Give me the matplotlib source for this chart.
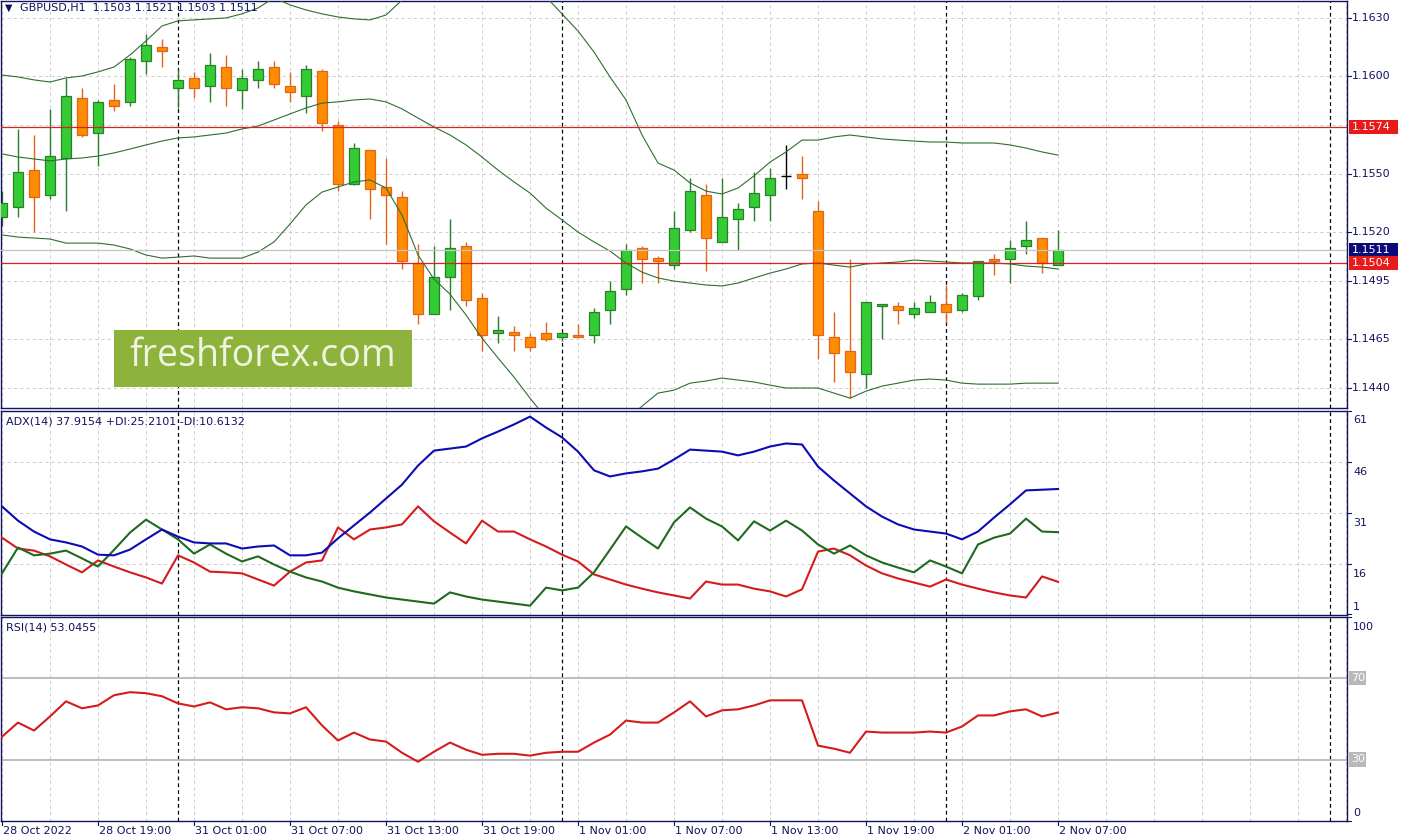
import matplotlib
matplotlib.use("Agg")
import matplotlib.pyplot as plt
import matplotlib.transforms as mtransforms
from matplotlib.patches import Rectangle
from matplotlib.lines import Line2D

# ---------------- data ----------------
symbol_header = "GBPUSD,H1  1.1503 1.1521 1.1503 1.1511"
adx_header = "ADX(14) 37.9154 +DI:25.2101 -DI:10.6132"
rsi_header = "RSI(14) 53.0455"

opens = [1.1528, 1.1533, 1.1552, 1.1539, 1.1558, 1.1589, 1.1571, 1.1588, 1.1587, 1.1608,
         1.1615, 1.1594, 1.1599, 1.1595, 1.1605, 1.1593, 1.1598, 1.1605, 1.1595, 1.1590,
         1.1603, 1.1575, 1.1545, 1.1562, 1.1543, 1.1538, 1.1504, 1.1478, 1.1497, 1.1513,
         1.1486, 1.1468, 1.1469, 1.1466, 1.1468, 1.1466, 1.1467, 1.1467, 1.1480, 1.1491,
         1.1512, 1.1507, 1.1503, 1.1521, 1.1539, 1.1515, 1.1527, 1.1533, 1.1539, 1.1549,
         1.1550, 1.1531, 1.1466, 1.1459, 1.1447, 1.1482, 1.1482, 1.1478, 1.1479, 1.1483,
         1.1480, 1.1487, 1.1506, 1.1506, 1.1513, 1.1517, 1.1503]
highs = [1.1541, 1.1573, 1.1570, 1.1583, 1.1599, 1.1594, 1.1588, 1.1596, 1.1610, 1.1622,
         1.1619, 1.1604, 1.1602, 1.1612, 1.1611, 1.1604, 1.1608, 1.1608, 1.1602, 1.1606,
         1.1604, 1.1577, 1.1566, 1.1562, 1.1558, 1.1541, 1.1514, 1.1513, 1.1527, 1.1515,
         1.1489, 1.1477, 1.1472, 1.1468, 1.1474, 1.1468, 1.1473, 1.1481, 1.1495, 1.1514,
         1.1513, 1.1508, 1.1531, 1.1548, 1.1545, 1.1548, 1.1535, 1.1551, 1.1553, 1.1565,
         1.1559, 1.1536, 1.1479, 1.1506, 1.1484, 1.1483, 1.1484, 1.1484, 1.1488, 1.1493,
         1.1489, 1.1505, 1.1509, 1.1516, 1.1526, 1.1517, 1.1521]
lows = [1.1523, 1.1528, 1.1520, 1.1537, 1.1531, 1.1569, 1.1554, 1.1582, 1.1585, 1.1601,
        1.1605, 1.1584, 1.1589, 1.1587, 1.1585, 1.1583, 1.1594, 1.1594, 1.1587, 1.1581,
        1.1572, 1.1541, 1.1544, 1.1527, 1.1514, 1.1501, 1.1473, 1.1478, 1.1480, 1.1482,
        1.1459, 1.1463, 1.1459, 1.1459, 1.1464, 1.1464, 1.1466, 1.1463, 1.1473, 1.1488,
        1.1494, 1.1494, 1.1501, 1.1520, 1.1500, 1.1515, 1.1511, 1.1526, 1.1526, 1.1542,
        1.1537, 1.1455, 1.1443, 1.1435, 1.1440, 1.1465, 1.1473, 1.1476, 1.1479, 1.1474,
        1.1479, 1.1485, 1.1498, 1.1494, 1.1509, 1.1499, 1.1503]
closes = [1.1535, 1.1551, 1.1538, 1.1559, 1.1590, 1.1570, 1.1587, 1.1585, 1.1609, 1.1616,
          1.1613, 1.1598, 1.1594, 1.1606, 1.1594, 1.1599, 1.1604, 1.1596, 1.1592, 1.1604,
          1.1576, 1.1545, 1.1563, 1.1542, 1.1539, 1.1505, 1.1478, 1.1497, 1.1512, 1.1485,
          1.1467, 1.1470, 1.1467, 1.1461, 1.1465, 1.1468, 1.1466, 1.1479, 1.1490, 1.1511,
          1.1506, 1.1505, 1.1522, 1.1541, 1.1517, 1.1528, 1.1532, 1.1540, 1.1548, 1.1549,
          1.1548, 1.1467, 1.1458, 1.1448, 1.1484, 1.1483, 1.1480, 1.1481, 1.1484, 1.1479,
          1.1488, 1.1505, 1.1505, 1.1512, 1.1516, 1.1504, 1.1511]

bb_upper = [1.16007, 1.15997, 1.15982, 1.15971, 1.15992, 1.16002, 1.16023, 1.16048, 1.16110, 1.16182,
            1.16259, 1.16285, 1.16290, 1.16295, 1.16300, 1.16321, 1.16351, 1.16403, 1.16367, 1.16341,
            1.16321, 1.16305, 1.16295, 1.16290, 1.16315, 1.16392, 1.16495, 1.16598, 1.16675, 1.16726,
            1.16752, 1.16752, 1.16726, 1.16649, 1.16408, 1.16321, 1.16233, 1.16125, 1.15997, 1.15879,
            1.15699, 1.15555, 1.15519, 1.15453, 1.15411, 1.15396, 1.15427, 1.15489, 1.15560, 1.15612,
            1.15673, 1.15673, 1.15689, 1.15699, 1.15689, 1.15679, 1.15673, 1.15668, 1.15663, 1.15663,
            1.15658, 1.15658, 1.15658, 1.15648, 1.15632, 1.15612, 1.15596]
bb_middle = [1.15602, 1.15586, 1.15576, 1.15566, 1.15576, 1.15581, 1.15591, 1.15607, 1.15627, 1.15648,
             1.15668, 1.15684, 1.15689, 1.15699, 1.15709, 1.15730, 1.15745, 1.15776, 1.15807, 1.15838,
             1.15863, 1.15869, 1.15879, 1.15884, 1.15869, 1.15833, 1.15786, 1.15740, 1.15699, 1.15648,
             1.15586, 1.15519, 1.15458, 1.15401, 1.15324, 1.15263, 1.15201, 1.15150, 1.15103, 1.15042,
             1.14995, 1.14965, 1.14949, 1.14939, 1.14929, 1.14924, 1.14939, 1.14965, 1.14990, 1.15011,
             1.15037, 1.15042, 1.15031, 1.15021, 1.15037, 1.15042, 1.15047, 1.15057, 1.15052, 1.15047,
             1.15042, 1.15042, 1.15042, 1.15037, 1.15026, 1.15021, 1.15011]
bb_lower = [1.15186, 1.15175, 1.15170, 1.15165, 1.15144, 1.15144, 1.15144, 1.15134, 1.15114, 1.15083,
            1.15067, 1.15072, 1.15078, 1.15067, 1.15067, 1.15067, 1.15098, 1.15150, 1.15242, 1.15340,
            1.15406, 1.15432, 1.15458, 1.15468, 1.15427, 1.15288, 1.15083, 1.14959, 1.14882, 1.14775,
            1.14656, 1.14554, 1.14456, 1.14348, 1.14246, 1.14158, 1.14107, 1.14107, 1.14158, 1.14235,
            1.14307, 1.14374, 1.14389, 1.14425, 1.14436, 1.14451, 1.14441, 1.14431, 1.14415, 1.14400,
            1.14400, 1.14400, 1.14374, 1.14348, 1.14384, 1.14410, 1.14425, 1.14441, 1.14446, 1.14441,
            1.14425, 1.14420, 1.14420, 1.14420, 1.14425, 1.14425, 1.14425]

adx = [32.8, 28.6, 25.4, 23.1, 22.2, 21.0, 18.6, 18.4, 20.1, 23.1,
       26.0, 23.9, 22.2, 21.9, 21.9, 20.4, 21.0, 21.3, 18.4, 18.4,
       19.2, 23.4, 27.2, 31.0, 35.1, 39.2, 44.8, 49.2, 49.8, 50.4,
       52.8, 54.8, 56.9, 59.2, 56.0, 53.1, 48.9, 43.4, 41.6, 42.5,
       43.1, 43.9, 46.6, 49.5, 49.2, 48.9, 47.8, 48.9, 50.4, 51.3,
       51.0, 44.5, 40.4, 36.6, 32.8, 29.8, 27.5, 26.0, 25.4, 24.8,
       23.1, 25.4, 29.5, 33.4, 37.5, 37.7, 37.9154]
plus_di = [13.1, 20.7, 18.4, 18.9, 19.8, 17.5, 15.1, 20.0, 25.1, 28.9,
           26.0, 23.1, 18.9, 21.6, 18.9, 16.6, 18.1, 15.7, 13.6, 11.9,
           10.7, 8.9, 7.8, 6.9, 6.0, 5.4, 4.8, 4.2, 7.5, 6.3,
           5.4, 4.8, 4.2, 3.6, 8.9, 8.1, 8.9, 13.4, 20.1, 26.9,
           23.6, 20.4, 28.1, 32.5, 29.2, 26.9, 22.8, 28.4, 25.7, 28.6,
           25.7, 21.6, 18.9, 21.3, 18.4, 16.3, 14.8, 13.4, 16.9, 15.1,
           13.1, 21.6, 23.6, 24.8, 29.2, 25.4, 25.2101]
minus_di = [23.6, 20.4, 19.8, 18.1, 15.7, 13.4, 16.9, 15.1, 13.4, 11.9,
            10.1, 18.4, 16.3, 13.6, 13.4, 13.1, 11.3, 9.5, 13.6, 16.3,
            16.9, 26.6, 23.1, 26.0, 26.6, 27.5, 32.8, 28.4, 25.1, 21.9,
            28.6, 25.4, 25.4, 23.1, 21.0, 18.6, 16.6, 12.8, 11.3, 9.8,
            8.6, 7.5, 6.6, 5.7, 10.7, 9.8, 9.8, 8.6, 7.8, 6.3,
            8.4, 19.5, 20.4, 18.4, 15.4, 13.1, 11.6, 10.4, 9.2, 11.3,
            9.8, 8.6, 7.5, 6.6, 6.0, 12.2, 10.6132]
rsi = [41.2, 48.1, 44.2, 51.1, 58.5, 55.1, 56.5, 61.5, 63.0, 62.5,
       61.0, 57.5, 56.0, 58.0, 54.6, 55.6, 55.1, 53.1, 52.6, 55.6,
       46.7, 39.3, 43.2, 39.8, 38.8, 33.3, 28.9, 33.8, 38.3, 34.8,
       32.3, 32.8, 32.8, 31.9, 33.3, 33.8, 33.8, 38.3, 42.2, 49.1,
       48.1, 48.1, 53.1, 58.5, 51.1, 54.1, 54.6, 56.5, 59.0, 59.0,
       59.0, 36.8, 35.3, 33.3, 43.7, 43.2, 43.2, 43.2, 43.7, 43.2,
       46.2, 51.6, 51.6, 53.6, 54.6, 51.1, 53.0455]

tick_labels = ["28 Oct 2022", "28 Oct 19:00", "31 Oct 01:00", "31 Oct 07:00",
               "31 Oct 13:00", "31 Oct 19:00", "1 Nov 01:00", "1 Nov 07:00",
               "1 Nov 13:00", "1 Nov 19:00", "2 Nov 01:00", "2 Nov 07:00"]
tick_bars = [0, 6, 12, 18, 24, 30, 36, 42, 48, 54, 60, 66]
separator_bars = [11, 35, 59, 83]
price_tick_values = [1.1630, 1.1600, 1.1550, 1.1520, 1.1495, 1.1465, 1.1440]
price_grid_values = [1.1630, 1.1600, 1.1575, 1.1550, 1.1520, 1.1495, 1.1465, 1.1440]
level_prices = [1.1574, 1.1504]
level_labels = ["1.1574", "1.1504"]
bid_price = 1.1511
bid_label = "1.1511"
adx_grid_values = [16, 31, 46]
adx_tick_labels = ["61", "46", "31", "16", "1"]
rsi_levels = [70, 30]
rsi_level_labels = ["70", "30"]
watermark = "freshforex.com"

# ---------------- layout ----------------
W, H, DPI = 1407, 836, 100
NAVY = "#12125e"
GRID = "#cfcfcf"
FONT = "DejaVu Sans"
plt.rcParams["font.family"] = [FONT]

fig = plt.figure(figsize=(W / DPI, H / DPI), dpi=DPI)
fig.patch.set_facecolor("white")


def fx(px):
    return px / W


def fy(py):
    return 1 - py / H


def add_ax(l, t, r, b):
    return fig.add_axes([fx(l), fy(b), (r - l) / W, (b - t) / H])


XR = 1347
ax1 = add_ax(1, 1, XR, 407.5)
ax2 = add_ax(1, 410.5, XR, 614.5)
ax3 = add_ax(1, 616.7, XR, 820.7)

xmin, xmax = -0.0625, 84.06
n = len(closes)
xs = list(range(n))

for ax in (ax1, ax2, ax3):
    ax.set_xlim(xmin, xmax)
    ax.set_xticks([])
    ax.set_yticks([])
    for s in ax.spines.values():
        s.set_color(NAVY)
        s.set_linewidth(1.0)
    ax.set_facecolor("white")
    for gx in range(0, 85, 3):
        ax.axvline(gx, color=GRID, lw=0.75, ls=(0, (3, 3)), zorder=0.5)
    for sx in separator_bars:
        ax.axvline(sx, color="black", lw=0.9, ls=(0, (3, 2.5)), zorder=0.8)

ax1.set_ylim(1.14300, 1.16387)
ax2.set_ylim(1, 61)
ax3.set_ylim(0, 100)

for p in price_grid_values:
    ax1.axhline(p, color=GRID, lw=0.75, ls=(0, (3, 3)), zorder=0.5)
for v in adx_grid_values:
    ax2.axhline(v, color=GRID, lw=0.75, ls=(0, (3, 3)), zorder=0.5)

# ---------------- candles ----------------
BULL_FILL, BULL_EDGE = "#33cc33", "#2b7f2b"
BEAR_FILL, BEAR_EDGE = "#ff8c00", "#e0641a"
bw = 0.6
for i in xs:
    o, h, l, c = opens[i], highs[i], lows[i], closes[i]
    if c > o:
        fc, ec = BULL_FILL, BULL_EDGE
    elif c < o:
        fc, ec = BEAR_FILL, BEAR_EDGE
    else:
        fc, ec = "black", "black"
    ax1.vlines(i, l, h, color=ec, lw=1.0, zorder=2)
    if c == o:
        ax1.hlines(o, i - bw / 2, i + bw / 2, color=ec, lw=1.0, zorder=3)
    else:
        ax1.bar(i, abs(c - o), bottom=min(o, c), width=bw, color=fc,
                edgecolor=ec, linewidth=0.9, zorder=3)

BB = "#2e6e2e"
for band in (bb_upper, bb_middle, bb_lower):
    ax1.plot(xs, band, color=BB, lw=0.8, zorder=4)

ax1.axhline(bid_price, color="#c4c4c4", lw=0.9, zorder=4)
for p in level_prices:
    ax1.axhline(p, color="#d92020", lw=0.9, zorder=5)

# ---------------- ADX ----------------
ax2.plot(xs, minus_di, color="#d41c1c", lw=1.5, zorder=3)
ax2.plot(xs, plus_di, color="#1e6a1e", lw=1.5, zorder=3)
ax2.plot(xs, adx, color="#0c0cb4", lw=1.5, zorder=4)

# ---------------- RSI ----------------
for lv in rsi_levels:
    ax3.axhline(lv, color="#b8b8b8", lw=1.3, zorder=1)
ax3.plot(xs, rsi, color="#d41c1c", lw=1.5, zorder=3)

# ---------------- texts ----------------
def ftext(px, py, s, **kw):
    kw.setdefault("color", NAVY)
    kw.setdefault("fontsize", 8)
    kw.setdefault("va", "center")
    kw.setdefault("ha", "left")
    fig.text(fx(px), fy(py), s, **kw)


ftext(5, 8, "\u25BC", fontsize=7)
ftext(20, 8, symbol_header)
ftext(6, 421, adx_header)
ftext(6, 628, rsi_header)

tr1 = mtransforms.blended_transform_factory(fig.transFigure, ax1.transData)
for p in price_tick_values:
    fig.text(fx(1352), p, f"{p:.4f}", transform=tr1, color=NAVY, fontsize=8,
             va="center", ha="left")
    fig.add_artist(Line2D([fx(XR), fx(XR + 4)], [p, p], transform=tr1, color=NAVY, lw=0.8))

box_h = 0.00072


def price_box(p, label, color):
    fig.add_artist(Rectangle((fx(1349), p - box_h / 2), 49 / W, box_h, transform=tr1,
                             facecolor=color, edgecolor="none", zorder=5))
    fig.text(fx(1352), p, label, transform=tr1, color="white", fontsize=8,
             va="center", ha="left", zorder=6)


price_box(level_prices[0], level_labels[0], "#e81a1a")
price_box(bid_price, bid_label, "#0a0a78")
price_box(level_prices[1], level_labels[1], "#e81a1a")

adx_label_y = [420, 472, 523, 574, 607]
for s, py in zip(adx_tick_labels, adx_label_y):
    ftext(1353, py, s)
for py in [411, 462, 513, 564, 614]:
    fig.add_artist(Line2D([fx(XR), fx(XR + 4)], [fy(py), fy(py)], transform=fig.transFigure,
                          color=NAVY, lw=0.8))

ftext(1353, 627, "100")
ftext(1353, 813, "0")
tr3 = mtransforms.blended_transform_factory(fig.transFigure, ax3.transData)
for lv, s in zip(rsi_levels, rsi_level_labels):
    fig.add_artist(Rectangle((fx(1349), lv - 3.6), 17 / W, 7.2, transform=tr3,
                             facecolor="#b8b8b8", edgecolor="none", zorder=5))
    fig.text(fx(1351), lv, s, transform=tr3, color="white", fontsize=8,
             va="center", ha="left", zorder=6)
for py in [617, 821]:
    fig.add_artist(Line2D([fx(XR), fx(XR + 4)], [fy(py), fy(py)], transform=fig.transFigure,
                          color=NAVY, lw=0.8))

for b, s in zip(tick_bars, tick_labels):
    px = 1 + (b - xmin) * (XR - 1) / (xmax - xmin)
    fig.add_artist(Line2D([fx(px), fx(px)], [fy(821), fy(825)], transform=fig.transFigure,
                          color=NAVY, lw=0.8))
    ftext(px + 1, 830.5, s)

# watermark
fig.add_artist(Rectangle((fx(114), fy(387)), (412 - 114) / W, (387 - 330) / H,
                         transform=fig.transFigure, facecolor="#8db33c",
                         edgecolor="none", zorder=10))
fig.text(fx(263), fy(356), watermark, color="#eef4e0", fontsize=27,
         family=["Open Sans", "DejaVu Sans"], ha="center", va="center", zorder=11)

fig.savefig("out.png", dpi=DPI, facecolor="white")
